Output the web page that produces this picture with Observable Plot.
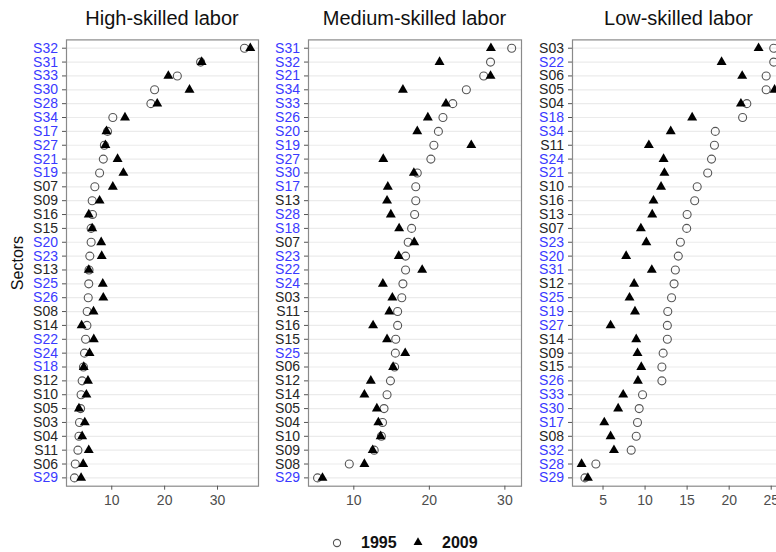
<!DOCTYPE html>
<html>
<head>
<meta charset="utf-8">
<script src="https://cdn.jsdelivr.net/npm/d3@7"></script>
<script src="https://cdn.jsdelivr.net/npm/@observablehq/plot@0.6"></script>
<style>
  html, body { margin: 0; padding: 0; overflow: hidden; background: #fff; }
  #page { position: relative; width: 790px; height: 552px; font-family: "Liberation Sans", Arial, sans-serif; }
  .panel { position: absolute; top: 30px; }
  .title { position: absolute; top: 5px; width: 300px; text-align: center; font-size: 20px; line-height: 26px; color: #111; }
  .ylab { position: absolute; width: 120px; height: 20px; line-height: 20px; text-align: center; font-size: 16px; color: #111; transform: rotate(-90deg); }
  .legtext { position: absolute; top: 533px; font-size: 16px; font-weight: bold; line-height: 20px; color: #111; }
  .legsym { position: absolute; }
</style>
</head>
<body>
<div id="page"></div>
<script>
// Share of each skill type in sector value added, 1995 vs 2009
const serviceSectors = ["S17","S18","S19","S20","S21","S22","S23","S24","S25","S26",
  "S27","S28","S29","S30","S31","S32","S33","S34"];

// High-skilled labor (sectors ordered by 1995 value)
const highSectors = ["S32","S31","S33","S30","S28","S34","S17","S27","S21","S19","S07","S09","S16","S15","S20","S23",
  "S13","S25","S26","S08","S14","S22","S24","S18","S12","S10","S05","S03","S04","S11","S06","S29"];
const high1995 = [35.1,26.8,22.4,18.1,17.4,10.2,9.2,8.6,8.4,7.7,6.8,6.3,6.35,6.1,6.1,5.85,
  5.7,5.65,5.55,5.35,5.3,5.05,4.85,4.65,4.4,4.2,4.1,3.9,3.8,3.6,3.1,2.95];
const high2009 = [36.2,27.0,20.7,24.7,18.6,12.5,9.0,8.8,11.1,12.2,10.2,7.7,5.65,6.3,8.0,8.1,
  5.65,8.3,8.4,6.55,4.3,6.6,5.8,4.7,5.5,5.2,3.8,4.9,4.4,5.65,4.6,4.2];

// Medium-skilled labor
const mediumSectors = ["S31","S32","S21","S34","S33","S26","S20","S19","S27","S30","S17","S13","S28","S18","S07","S23",
  "S22","S24","S03","S11","S16","S15","S25","S06","S12","S14","S05","S04","S10","S09","S08","S29"];
const medium1995 = [30.9,28.1,27.2,24.9,23.1,21.8,21.2,20.6,20.2,18.4,18.2,18.2,18.05,17.65,17.2,16.85,
  16.85,16.5,16.35,15.8,15.8,15.55,15.5,15.4,14.85,14.4,14.0,13.8,13.65,12.7,9.4,5.2];
const medium2009 = [28.15,21.35,28.1,16.5,22.2,19.8,18.4,25.55,13.9,17.95,14.5,14.4,14.9,16.0,18.0,15.95,
  19.05,13.85,15.1,14.7,12.55,14.4,16.8,15.2,12.25,11.4,13.05,13.25,13.55,12.5,11.4,5.85];

// Low-skilled labor
const lowSectors = ["S03","S22","S06","S05","S04","S18","S34","S11","S24","S21","S10","S16","S13","S07","S23","S20",
  "S31","S12","S25","S19","S27","S14","S09","S15","S26","S33","S30","S17","S08","S32","S28","S29"];
const low1995 = [25.3,25.3,24.4,24.4,22.1,21.6,18.35,18.25,17.9,17.45,16.2,15.9,15.0,14.95,14.2,13.95,
  13.6,13.45,13.15,12.7,12.65,12.65,12.15,12.0,12.0,9.7,9.3,9.1,8.95,8.35,4.15,2.85];
const low2009 = [23.5,19.1,21.55,25.4,21.4,15.6,13.05,10.45,12.2,12.3,11.9,11.0,10.85,9.5,10.15,7.75,
  10.8,8.7,8.15,8.8,5.9,8.95,9.1,9.55,9.15,7.4,6.8,5.15,5.9,6.3,2.45,3.2];

const panelTitles = ["High-skilled labor", "Medium-skilled labor", "Low-skilled labor"];
const xTicks = [[10, 20, 30], [10, 20, 30], [5, 10, 15, 20, 25]];

const BLUE = "#3a3aff";
const DARK = "#262626";
const page = document.getElementById("page");

function drawPanel({sectors, v1995, v2009, domain, ticks, left, width, marginLeft, marginRight, title}) {
  const rows = sectors.map((s, i) => ({sector: s, v1995: v1995[i], v2009: v2009[i]}));
  const chart = Plot.plot({
    width,
    height: 480,
    marginTop: 9.4,
    marginBottom: 24.3,
    marginLeft,
    marginRight,
    style: {fontFamily: "'Liberation Sans', Arial, sans-serif", fontSize: "14px", background: "transparent"},
    x: {domain, ticks, label: null},
    y: {type: "point", domain: sectors, padding: 0.6, round: false, label: null},
    marks: [
      Plot.gridY({stroke: "#ebebeb", strokeOpacity: 1, strokeWidth: 1.2}),
      Plot.frame({stroke: "#8a8a8a", strokeWidth: 1.2}),
      Plot.dot(rows, {x: "v1995", y: "sector", r: 4, fill: "none", stroke: "#555", strokeWidth: 1.1}),
      Plot.dot(rows, {x: "v2009", y: "sector", symbol: "triangle", r: 3.7, fill: "black", stroke: "none"}),
      Plot.axisX({ticks, tickSize: 4, tickPadding: 5, stroke: "#555", fill: "#4d4d4d", label: null}),
      Plot.axisY({tickSize: 4, tickPadding: 4.5, stroke: "#555",
        fill: d => serviceSectors.includes(d) ? BLUE : DARK, label: null})
    ]
  });
  const wrap = document.createElement("div");
  wrap.className = "panel";
  wrap.style.left = left + "px";
  wrap.appendChild(chart);
  page.appendChild(wrap);

  const t = document.createElement("div");
  t.className = "title";
  t.textContent = title;
  const center = left + marginLeft + (width - marginLeft - marginRight) / 2;
  t.style.left = (center - 150) + "px";
  page.appendChild(t);
}

drawPanel({sectors: highSectors, v1995: high1995, v2009: high2009, domain: [1.44, 37.75], ticks: xTicks[0],
  left: 0, width: 262, marginLeft: 66, marginRight: 4, title: panelTitles[0]});
drawPanel({sectors: mediumSectors, v1995: medium1995, v2009: medium2009, domain: [4.0, 32.2], ticks: xTicks[1],
  left: 262, width: 263, marginLeft: 46, marginRight: 4, title: panelTitles[1]});
drawPanel({sectors: lowSectors, v1995: low1995, v2009: low2009, domain: [1.37, 26.7], ticks: xTicks[2],
  left: 525, width: 263, marginLeft: 47, marginRight: 3, title: panelTitles[2]});

// Shared y-axis title
const ylab = document.createElement("div");
ylab.className = "ylab";
ylab.textContent = "Sectors";
ylab.style.left = (18 - 60) + "px";
ylab.style.top = (262.5 - 10) + "px";
page.appendChild(ylab);

// Legend: 1995 hollow circle, 2009 filled triangle
const ns = "http://www.w3.org/2000/svg";
function legendSymbol(cx, cy, kind) {
  const svg = document.createElementNS(ns, "svg");
  svg.setAttribute("width", 14);
  svg.setAttribute("height", 14);
  svg.setAttribute("class", "legsym");
  svg.style.left = (cx - 7) + "px";
  svg.style.top = (cy - 7) + "px";
  if (kind === "circle") {
    const c = document.createElementNS(ns, "circle");
    c.setAttribute("cx", 7); c.setAttribute("cy", 7); c.setAttribute("r", 3.6);
    c.setAttribute("fill", "none"); c.setAttribute("stroke", "#555"); c.setAttribute("stroke-width", 1.1);
    svg.appendChild(c);
  } else {
    const p = document.createElementNS(ns, "path");
    p.setAttribute("transform", "translate(7,7.5)");
    p.setAttribute("d", d3.symbol(d3.symbolTriangle, Math.PI * 3.3 * 3.3)());
    p.setAttribute("fill", "black");
    svg.appendChild(p);
  }
  page.appendChild(svg);
}
function legendText(x, text) {
  const d = document.createElement("div");
  d.className = "legtext";
  d.style.left = x + "px";
  d.textContent = text;
  page.appendChild(d);
}
legendSymbol(337, 543, "circle");
legendText(361, "1995");
legendSymbol(418, 542, "triangle");
legendText(442, "2009");
</script>
</body>
</html>
